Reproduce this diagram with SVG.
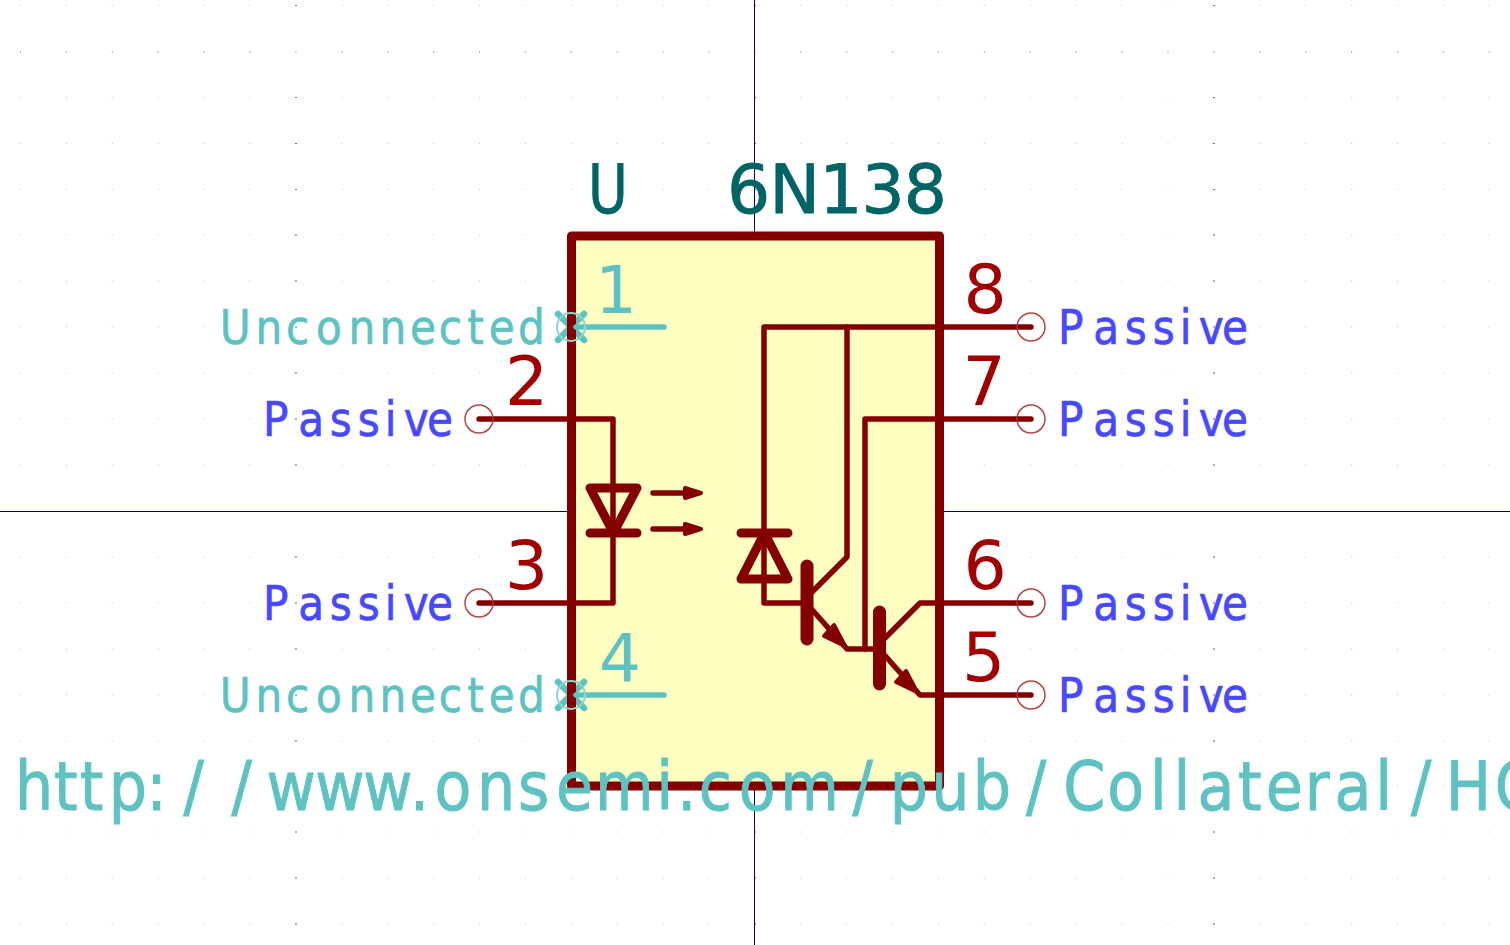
<svg xmlns="http://www.w3.org/2000/svg" width="1510" height="945" viewBox="0 0 1510 945">
<style>
text{font-family:"DejaVu Sans","Liberation Sans",sans-serif}
.g{stroke:#c4c4c4;stroke-width:1;stroke-dasharray:1 44.9;fill:none}
.G{stroke:#707070;stroke-width:1;stroke-dasharray:2 457;fill:none}
.b{fill:none;stroke:#840000;stroke-width:9;stroke-linejoin:round;stroke-linecap:round}
.w{fill:none;stroke:#840000;stroke-width:5.500;stroke-linejoin:round;stroke-linecap:round}
.a{fill:#840000;stroke:#840000;stroke-width:4;stroke-linejoin:round}
.n{fill:none;stroke:#5fc2c2;stroke-width:5.500;stroke-linecap:round}
.x{fill:none;stroke:#5fc2c2;stroke-width:6.500;stroke-linecap:round}
.s{fill:none;stroke:#840000;stroke-width:9}
.o{fill:none;stroke:#a83232;stroke-width:1.500;opacity:.9}
.u{fill:none;stroke:#8fd3d3;stroke-width:2}
.d{font-size:68px;fill:#a00000}
.c{font-size:66px;fill:#5fc2c2}
.t{font-size:48px;fill:#4848ff;stroke:#4848ff;stroke-width:.7}
.r{font-size:48px;fill:#5fc2c2;stroke:#5fc2c2;stroke-width:.7}
.l{font-size:67px;fill:#5fc2c2;stroke:#5fc2c2;stroke-width:1}
.v{font-size:68px;fill:#006464;stroke:#006464;stroke-width:.8}
</style>
<g id="grid">
<path class="g" d="M20 5.500H1510M20 97.500H1510M20 143.500H1510M20 189.500H1510M20 235H1510M20 281H1510M20 327H1510M20 373H1510M20 419H1510M20 465H1510M20 511H1510M20 557H1510M20 603H1510M20 649H1510M20 695H1510M20 741H1510M20 786H1510M20 832H1510M20 878H1510M20 924H1510"/>
<path class="G" d="M295 5.500H1510M295 97.500H1510M295 143.500H1510M295 189.500H1510M295 235H1510M295 281H1510M295 327H1510M295 373H1510M295 419H1510M295 465H1510M295 557H1510M295 603H1510M295 649H1510M295 695H1510M295 741H1510M295 786H1510M295 832H1510M295 878H1510M295 924H1510"/>
<path d="M20 52H1510" fill="none" stroke="#707070" stroke-dasharray="1 44.9"/>
</g>
<g id="axes">
<path d="M754.500 0V945" stroke="#000090" fill="none"/>
<path d="M0 511.500H1510" stroke="#000070" fill="none"/>
</g>
<g id="body">
<rect x="571.500" y="236" width="368" height="550" fill="#ffffc2" stroke="#840000" stroke-width="9" stroke-linejoin="round"/>
</g>
<g id="connectors">
<path class="w" d="M479 419H613V603H479"/>
<path class="w" d="M1031 327H764V603H807"/>
<path class="w" d="M847 327V557L807 597"/>
<path class="w" d="M1031 419H865V649"/>
<path class="w" d="M807 604L847 649H880"/>
<path class="w" d="M880 643L920 603H1031"/>
<path class="w" d="M880 650L920 695H1031"/>
</g>
<g id="led">
<path class="b" d="M590 488H637L613.500 533ZM590 533H637"/>
<path class="w" d="M653 493H685M653 529H685"/>
<path class="a" d="M685 488L701 493L685 498ZM685 524L701 529L685 534Z"/>
</g>
<g id="photodiode">
<path class="b" d="M741 533H788M764.500 533L788 579H741Z"/>
</g>
<g id="q1">
<path fill="none" stroke="#840000" stroke-width="13" stroke-linecap="round" d="M807 566V639"/>
<path class="a" d="M845 646L834 625L824 636Z"/>
</g>
<g id="q2">
<path fill="none" stroke="#840000" stroke-width="13" stroke-linecap="round" d="M879.500 612V684"/>
<path class="a" d="M917 692L906 671L896 682Z"/>
</g>
<g id="pin1">
<path class="x" d="M558 314L584 340M584 314L558 340"/>
<path class="s" d="M571.500 308V346"/>
<path class="n" d="M576 327H664"/>
<circle class="u" cx="571" cy="327" r="14"/>
<text class="c" x="595" y="313">1</text>
<text class="r" transform="scale(.88 1)" y="344" x="249.600 290.400 324.900 359 396 431.300 465.800 498.700 530.900 555.500 588.500">Unconnected</text>
</g>
<g id="pin4">
<path class="x" d="M558 682L584 708M584 682L558 708"/>
<path class="s" d="M571.500 676V714"/>
<path class="n" d="M576 695H664"/>
<circle class="u" cx="571" cy="695" r="14"/>
<text class="c" x="599" y="681">4</text>
<text class="r" transform="scale(.88 1)" y="712" x="249.600 290.400 324.900 359 396 431.300 465.800 498.700 530.900 555.500 588.500">Unconnected</text>
</g>
<g id="pin2">
<circle class="o" cx="479" cy="419" r="14"/>
<text class="d" x="505" y="405">2</text>
<text class="t" transform="translate(-795 0) scale(.88 1)" y="436" x="1202.300 1242.400 1278.100 1310 1340.500 1362.300 1388.600">Passive</text>
</g>
<g id="pin3">
<circle class="o" cx="479" cy="603" r="14"/>
<text class="d" x="505" y="589">3</text>
<text class="t" transform="translate(-795 0) scale(.88 1)" y="620" x="1202.300 1242.400 1278.100 1310 1340.500 1362.300 1388.600">Passive</text>
</g>
<g id="pin8">
<circle class="o" cx="1031" cy="327" r="14"/>
<text class="d" x="963.500" y="313">8</text>
<text class="t" transform="scale(.88 1)" y="344" x="1202.300 1242.400 1278.100 1310 1340.500 1362.300 1388.600">Passive</text>
</g>
<g id="pin7">
<circle class="o" cx="1031" cy="419" r="14"/>
<text class="d" x="962.500" y="405">7</text>
<text class="t" transform="scale(.88 1)" y="436" x="1202.300 1242.400 1278.100 1310 1340.500 1362.300 1388.600">Passive</text>
</g>
<g id="pin6">
<circle class="o" cx="1031" cy="603" r="14"/>
<text class="d" x="963.500" y="589">6</text>
<text class="t" transform="scale(.88 1)" y="620" x="1202.300 1242.400 1278.100 1310 1340.500 1362.300 1388.600">Passive</text>
</g>
<g id="pin5">
<circle class="o" cx="1031" cy="695" r="14"/>
<text class="d" x="962" y="681">5</text>
<text class="t" transform="scale(.88 1)" y="712" x="1202.300 1242.400 1278.100 1310 1340.500 1362.300 1388.600">Passive</text>
</g>
<g id="labels">
<text class="v" transform="translate(588 213) scale(.8 1)">U</text>
<text class="v" x="727" y="213" textLength="220" lengthAdjust="spacing">6N138</text>
<text class="l" transform="scale(.9 1)" y="810" x="16.600 59.900 88.500 120.800 162.800 203.800 257.300 296 350.400 403.500 455.600 482.900 530 575.500 617.900 661.200 729.200 752.500 776.500 820.800 866.900 947.100 988.600 1034.700 1080.800 1139.900 1181.400 1230.200 1277.700 1304 1330.700 1375.600 1406.400 1449.700 1482.900 1528.100 1567.800 1606.500 1660.900">http://www.onsemi.com/pub/Collateral/HC</text>
</g>
</svg>
